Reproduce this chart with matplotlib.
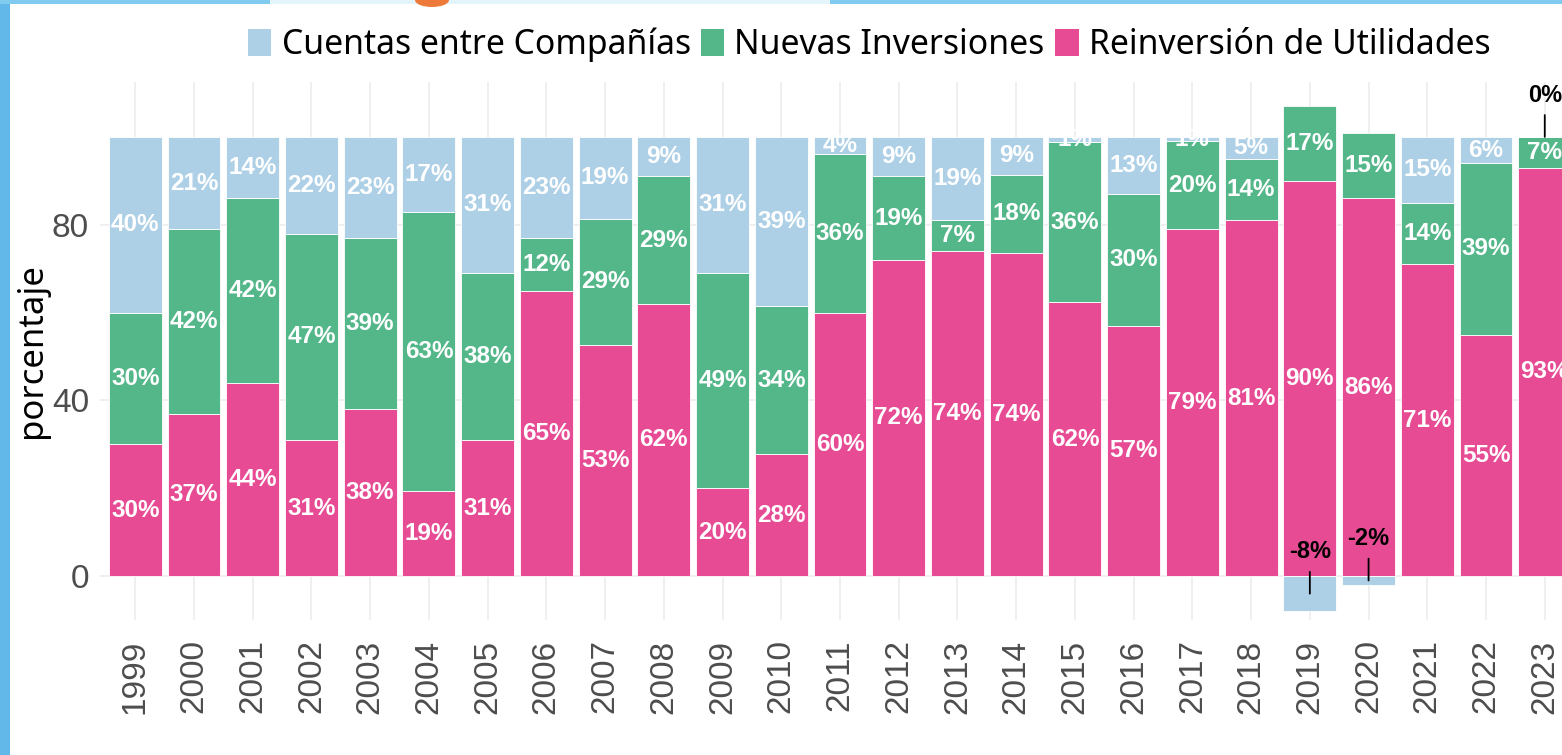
import numpy as np
import matplotlib
matplotlib.use("Agg")
import matplotlib.pyplot as plt
from matplotlib.patches import Rectangle, Patch, Ellipse

years = [1999, 2000, 2001, 2002, 2003, 2004, 2005, 2006, 2007, 2008, 2009, 2010,
         2011, 2012, 2013, 2014, 2015, 2016, 2017, 2018, 2019, 2020, 2021, 2022, 2023]
reinversion = [30, 37, 44, 31, 38, 19.4, 31, 65, 52.6, 62, 20, 27.7,
               60, 72, 74, 73.6, 62.4, 57, 79, 81, 90, 86, 71, 55, 93]
nuevas = [30, 42, 42, 47, 39, 63.4, 38, 12, 28.8, 29, 49, 33.7,
          36, 19, 7, 17.8, 36.4, 30, 20, 14, 17, 15, 14, 39, 7]
cuentas = [40, 21, 14, 22, 23, 17.2, 31, 23, 18.6, 9, 31, 38.6,
           4, 9, 19, 8.6, 1.2, 13, 1, 5, -8, -2, 15, 6, 0]

series_names = ["Reinversión de Utilidades", "Nuevas Inversiones", "Cuentas entre Compañías"]
series_vals = [reinversion, nuevas, cuentas]
colors = {"Cuentas entre Compañías": "#aed0e7",
          "Nuevas Inversiones": "#54b78a",
          "Reinversión de Utilidades": "#e64b94"}
legend_order = ["Cuentas entre Compañías", "Nuevas Inversiones", "Reinversión de Utilidades"]

W, H = 1562, 755
fig = plt.figure(figsize=(W / 100, H / 100), dpi=100)
fig.patch.set_facecolor("white")

# slide decoration (border)
fig.patches.append(Rectangle((0, 0), 10 / W, 1, transform=fig.transFigure,
                             facecolor="#62b8e9", edgecolor="none", zorder=0))
fig.patches.append(Rectangle((0, 1 - 4 / H), 1, 4 / H, transform=fig.transFigure,
                             facecolor="#80cbef", edgecolor="none", zorder=0))
fig.patches.append(Rectangle((270 / W, 1 - 4 / H), 560 / W, 4 / H, transform=fig.transFigure,
                             facecolor="#e3f4fb", edgecolor="none", zorder=0))
fig.patches.append(Ellipse((432 / W, 1), 34 / W, 14 / H, transform=fig.transFigure,
                           facecolor="#ee7a3a", edgecolor="none", zorder=0))

ax = fig.add_axes([100 / W, 135 / H, 1480 / W, 538 / H])
ax.set_facecolor("white")
x = np.array(years)
width = 0.9

pos_bottom = np.zeros(len(years))
neg_bottom = np.zeros(len(years))
segments = []
for name, vals in zip(series_names, series_vals):
    v = np.array(vals, dtype=float)
    bottom = np.where(v >= 0, pos_bottom, neg_bottom)
    ax.bar(x, v, width=width, bottom=bottom, color=colors[name],
           edgecolor="white", linewidth=0.6, zorder=2)
    segments.append((v, bottom))
    pos_bottom = pos_bottom + np.where(v >= 0, v, 0)
    neg_bottom = neg_bottom + np.where(v < 0, v, 0)

for v, bottom in segments:
    for xi, vi, bi in zip(x, v, bottom):
        center = bi + vi / 2
        label = f"{vi:.0f}%"
        if vi > 0:
            ax.text(xi, center, label, color="white", fontweight="bold",
                    fontsize=17.5, ha="center", va="center", family="Liberation Sans",
                    zorder=3)
        else:
            ax.annotate(label, xy=(xi, center), xytext=(0, 30),
                        textcoords="offset points", ha="center", va="center",
                        fontsize=17, fontweight="bold", color="black",
                        family="Liberation Sans", zorder=4, annotation_clip=False,
                        arrowprops=dict(arrowstyle="-", color="black", lw=1.3,
                                        shrinkA=4, shrinkB=0))

ax.set_xlim(1999 - 0.6, 2023 + 0.6)
ax.set_ylim(-10, 112.5)
ax.set_xticks(years)
ax.set_xticklabels([str(y) for y in years], rotation=90, fontsize=24,
                   color="#4d4d4d", family="Liberation Sans", va="top")
ax.set_yticks([0, 40, 80])
ax.set_yticklabels(["0", "40", "80"], fontsize=24, color="#4d4d4d",
                   family="Liberation Sans")
ax.tick_params(axis="x", length=0, pad=14)
ax.tick_params(axis="y", length=0, pad=8)
ax.grid(True, color="#ebebeb", linewidth=1.1, zorder=0)
ax.set_axisbelow(True)
for s in ax.spines.values():
    s.set_visible(False)
ax.set_ylabel("porcentaje", fontsize=25, family="Noto Sans", color="black", labelpad=2)

handles = [Patch(facecolor=colors[n], edgecolor="none") for n in legend_order]
leg = fig.legend(handles, legend_order, loc="center", bbox_to_anchor=(869 / W, 1 - 45 / H),
                 ncol=3, frameon=False, prop={"family": "Noto Sans", "size": 24.3},
                 handlelength=0.7, handleheight=0.85, handletextpad=0.3,
                 columnspacing=0.3, borderpad=0)

fig.savefig("out.png", dpi=100)
